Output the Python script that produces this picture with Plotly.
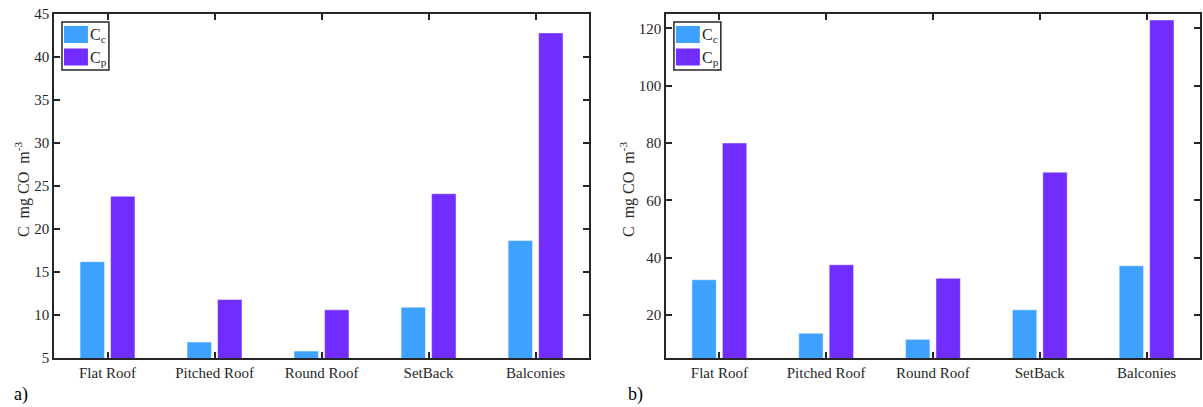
import plotly.graph_objects as go
from plotly.subplots import make_subplots

categories = ["Flat Roof", "Pitched Roof", "Round Roof", "SetBack", "Balconies"]
cc_a = [16.2, 6.85, 5.8, 10.9, 18.65]
cp_a = [23.8, 11.8, 10.6, 24.1, 42.8]
cc_b = [32.3, 13.6, 11.5, 21.8, 37.2]
cp_b = [80.0, 37.5, 32.8, 69.8, 122.9]
yticks_a = [5, 10, 15, 20, 25, 30, 35, 40, 45]
yticks_b = [20, 40, 60, 80, 100, 120]

COL_C = "rgb(63,161,255)"
COL_P = "rgb(113,44,255)"
EDGE = "rgba(255,255,255,0.45)"
FONT = "Times New Roman, Liberation Serif, serif"
AX = "#262626"

W, H = 1203, 407
ML, MR, MT, MB = 54, 1, 14, 49
PW = W - ML - MR
PH = H - MT - MB

def px(x):
    return (x - ML) / PW

def py(y):
    return 1 - (y - MT) / PH

left_dom = [px(54), px(590)]
right_dom = [px(667), px(1202)]

fig = make_subplots(rows=1, cols=2, horizontal_spacing=0.05)

for col, (cc, cp) in enumerate([(cc_a, cp_a), (cc_b, cp_b)], start=1):
    fig.add_trace(go.Bar(x=categories, y=cc, name="Cc", marker=dict(color=COL_C, line=dict(color=EDGE, width=1)),
                         showlegend=False), row=1, col=col)
    fig.add_trace(go.Bar(x=categories, y=cp, name="Cp", marker=dict(color=COL_P, line=dict(color=EDGE, width=1)),
                         showlegend=False), row=1, col=col)

axcommon = dict(showline=True, linecolor=AX, linewidth=1.5, mirror="ticks", ticks="inside", ticklen=6,
                tickcolor=AX, tickwidth=1.5, showgrid=False, zeroline=False,
                tickfont=dict(family=FONT, size=15, color=AX))

fig.update_xaxes(**axcommon)
fig.update_xaxes(domain=left_dom, range=[-0.5, 4.5], row=1, col=1)
fig.update_xaxes(domain=right_dom, range=[-0.5, 4.5], row=1, col=2)
fig.update_yaxes(**axcommon)
fig.update_yaxes(range=[5, 45], tickvals=yticks_a, row=1, col=1)
fig.update_yaxes(range=[5, 125], tickvals=yticks_b, row=1, col=2)

fig.update_layout(width=W, height=H, margin=dict(l=ML, r=MR, t=MT, b=MB),
                  barmode="group", bargap=0.43, bargroupgap=0.2,
                  plot_bgcolor="white", paper_bgcolor="white",
                  font=dict(family=FONT, size=15, color=AX))

ytitle = "C  mg CO  m<sup>-3</sup>"
for (tx, leg_l, leg_r, lab_x, lab) in [(22, 62, 109, 12, "a)"), (628, 675, 722, 627, "b)")]:
    fig.add_annotation(text=ytitle, xref="paper", yref="paper", x=px(tx), y=py(189), textangle=-90,
                       showarrow=False, font=dict(family=FONT, size=16, color=AX), xanchor="center", yanchor="middle")
    fig.add_shape(type="rect", xref="paper", yref="paper", x0=px(leg_l), x1=px(leg_r), y0=py(70), y1=py(22),
                  line=dict(color=AX, width=1.5), fillcolor="white")
    sw_l = leg_l + 2
    for (y0, y1, colr, sub) in [(26, 43, COL_C, "c"), (48.5, 65.5, COL_P, "p")]:
        fig.add_shape(type="rect", xref="paper", yref="paper", x0=px(sw_l), x1=px(sw_l + 24), y0=py(y1), y1=py(y0),
                      line=dict(width=0), fillcolor=colr)
        fig.add_annotation(text="C<sub>" + sub + "</sub>", xref="paper", yref="paper", x=px(sw_l + 24),
                           y=py((y0 + y1) / 2 + 1), showarrow=False, xanchor="left", yanchor="middle",
                           font=dict(family=FONT, size=16, color=AX))
    fig.add_annotation(text=lab, xref="paper", yref="paper", x=px(lab_x), y=py(394), showarrow=False,
                       xanchor="left", yanchor="middle", font=dict(family=FONT, size=18, color="black"))

fig.write_html("out.html", config={"displayModeBar": False},
               post_script="document.body.style.margin='0';document.body.style.padding='0';")
